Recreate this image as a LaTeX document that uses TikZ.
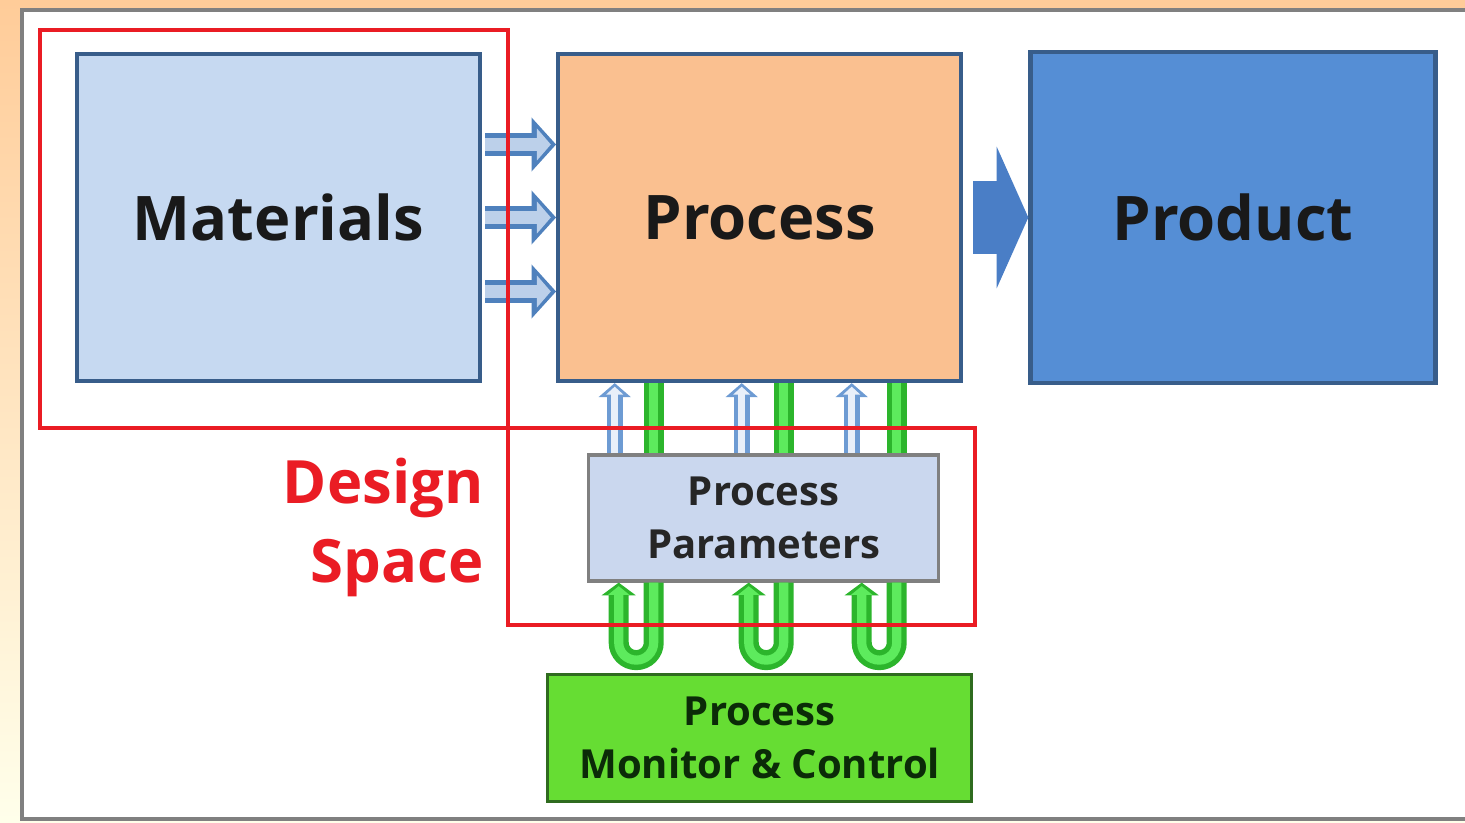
\documentclass[tikz,border=0pt]{standalone}
\usepackage{fontspec}
\setmainfont{Open Sans}
\usetikzlibrary{positioning,calc,arrows.meta}
\definecolor{matfill}{HTML}{C6D9F1}
\definecolor{boxline}{HTML}{385D8A}
\definecolor{procfill}{HTML}{FAC090}
\definecolor{prodfill}{HTML}{558ED5}
\definecolor{parfill}{HTML}{CAD7EE}
\definecolor{parline}{HTML}{808080}
\definecolor{monfill}{HTML}{66DD33}
\definecolor{monline}{HTML}{2F6B1F}
\definecolor{montext}{HTML}{0B2B08}
\definecolor{dsred}{HTML}{EA1C24}
\definecolor{flowblue}{HTML}{4F81BD}
\definecolor{flowlite}{HTML}{BCD0EA}
\definecolor{upblue}{HTML}{6D9BD3}
\definecolor{uplite}{HTML}{E8EFF9}
\definecolor{loopdark}{HTML}{2CB52C}
\definecolor{looplite}{HTML}{5DEB5D}
\definecolor{bigblue}{HTML}{4A7EC6}
\tikzstyle{block}=[draw=boxline,line width=1.2pt,minimum width=4.03cm,minimum height=3.27cm,
  font=\fontsize{17.5}{21}\selectfont\bfseries,text=black!90]
\tikzstyle{smallblock}=[line width=1pt,minimum height=1.26cm,font=\fontsize{11.4}{15}\selectfont\bfseries,align=center]
\tikzstyle{flow}=[draw=flowlite,line width=3.6pt,-{Triangle[width=9pt,length=4pt]},shorten >=1.5pt,
  preaction={draw=flowblue,line width=6.3pt,shorten >=0pt,-{Triangle[width=15pt,length=7pt]}}]
\tikzstyle{hollowup}=[draw=uplite,line width=2pt,-{Triangle[width=4.8pt,length=2.3pt]},shorten >=1pt,
  preaction={draw=upblue,line width=4.6pt,shorten >=0pt,-{Triangle[width=9pt,length=4pt]}}]
\tikzstyle{greenbar}=[draw=looplite,line width=2.6pt,preaction={draw=loopdark,line width=5.7pt}]
\tikzstyle{uloop}=[draw=looplite,line width=2.6pt,-{Triangle[width=6pt,length=2.5pt]},shorten >=1pt,
  preaction={draw=loopdark,line width=5.7pt,shorten >=0pt,-{Triangle[width=9.5pt,length=3.6pt]}}]
\tikzstyle{dsline}=[draw=dsred,line width=1.2pt]
% arrow from one box to the next, #3 = vertical offset
\newcommand{\flowArrow}[3]{\draw[flow] ($(#1.east)+(0.03,#3)$) -- ($(#2.west)+(0,#3)$);}
% #1 = x offset of the hollow up arrow, #2 = x offset of the left leg of the loop
\newcommand{\paramLoop}[2]{
  \draw[hollowup] ($(params.north)+(#1,0)$) coordinate (foot) -- (foot |- proc.south);
  \draw[greenbar] ($(params.north)+({#2+0.35},0)$) coordinate (foot) -- (foot |- proc.south);
  \draw[uloop] ($(params.south)+({#2+0.35},0)$) -- ++(0,-0.60)
    arc[start angle=0,end angle=-180,radius=0.175] -- ($(params.south)+(#2,0)$);
}

\begin{document}
\begin{tikzpicture}[node distance=0.74cm and 0.74cm]
  \clip (0,0) rectangle (14.65,-8.23);
  \shade[top color=orange!40!white,bottom color=yellow!8!white] (0,0) rectangle (14.65,-8.23);
  \fill[white] (0.22,-0.10) rectangle (15,-8.19);
  \draw[gray,line width=1.3pt] (15,-0.10) -- (0.22,-0.10) -- (0.22,-8.19) -- (15,-8.19);

  \node[block,fill=matfill] (mat) at (2.785,-2.175) {Materials};
  \node[block,fill=procfill,right=0.74cm of mat] (proc) {Process};
  \node[block,fill=prodfill,right=0.65cm of proc,minimum width=4.05cm,minimum height=3.31cm] (prod) {Product};
  \node[smallblock,draw=parline,fill=parfill,minimum width=3.5cm,text=black!85,
    below=0.70cm of proc,xshift=0.04cm] (params) {Process\\Parameters};
  \node[smallblock,draw=monline,fill=monfill,minimum width=4.24cm,minimum height=1.27cm,text=montext,
    below=0.90cm of params,xshift=-0.04cm] (mon) {Process\\Monitor \& Control};

  \flowArrow{mat}{proc}{0.73}
  \flowArrow{mat}{proc}{0}
  \flowArrow{mat}{proc}{-0.74}
  \draw[bigblue,line width=20.8pt,-{Triangle[width=40pt,length=9pt]}] ($(proc.east)+(0.10,0)$) -- (prod.west);

  \paramLoop{-1.49}{-1.45}
  \paramLoop{-0.22}{-0.15}
  \paramLoop{0.88}{0.98}

  % design space
  \draw[dsline] (0.40,-0.30) rectangle (5.08,-4.28);
  \draw[dsline] (5.08,-4.28) rectangle (9.75,-6.25);
  \node[anchor=north east,inner sep=0pt,align=right,text=dsred,
    font=\fontsize{17}{22.5}\selectfont\bfseries] (ds) at (4.84,-4.57) {Design\\Space};
\end{tikzpicture}
\end{document}
